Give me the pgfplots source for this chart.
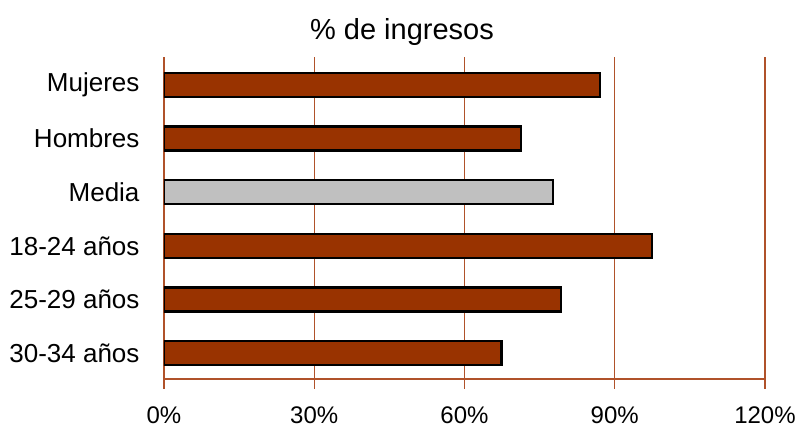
\documentclass[border=0pt]{standalone}
\usepackage{pgfplots}
\pgfplotsset{compat=1.18}
\usepackage{fontspec}
\setmainfont{Liberation Sans}

\definecolor{barbrown}{RGB}{153,51,0}
\definecolor{gridbrown}{RGB}{176,82,42}
\definecolor{bargray}{RGB}{192,192,192}

\begin{document}
\begin{tikzpicture}
\begin{axis}[
  scale only axis,
  width=601pt, height=322pt,
  xbar, bar width=24pt, bar shift=0pt,
  xmin=0, xmax=120,
  ymin=-0.48, ymax=5.52,
  xtick={0,30,60,90,120},
  xticklabels={0\%,30\%,60\%,90\%,120\%},
  ytick={0,1,2,3,4,5},
  yticklabels={30-34 años,25-29 años,18-24 años,Media,Hombres,Mujeres},
  axis x line*=bottom,
  axis y line*=left,
  x axis line style={draw=gridbrown, line width=1.2pt, -},
  y axis line style={draw=gridbrown, line width=2pt, -},
  xmajorgrids,
  grid style={draw=gridbrown, line width=1.2pt},
  major x tick style={draw=gridbrown, line width=1.2pt},
  xtick align=outside,
  major tick length=10pt,
  ytick style={draw=none},
  xticklabel style={font=\fontsize{24}{27}\selectfont, yshift=-14pt},
  yticklabel style={font=\fontsize{26}{29}\selectfont, xshift=-11pt},
  title={\% de ingresos},
  title style={font=\fontsize{29}{32}\selectfont, at={(0.396,1.06)}, anchor=center},
]
\addplot[fill=barbrown, draw=black, line width=2.2pt] coordinates {
  (87.0,5) (71.3,4) (97.4,2) (79.3,1) (67.4,0)
};
\addplot[fill=bargray, draw=black, line width=2.2pt] coordinates {
  (77.6,3)
};
\coordinate (sw) at (rel axis cs:0,0);
\coordinate (ne) at (rel axis cs:1,1);
\end{axis}
\pgfresetboundingbox
\path ([xshift=-164pt,yshift=-52pt]sw) rectangle ([xshift=36pt,yshift=57pt]ne);
\end{tikzpicture}
\end{document}
